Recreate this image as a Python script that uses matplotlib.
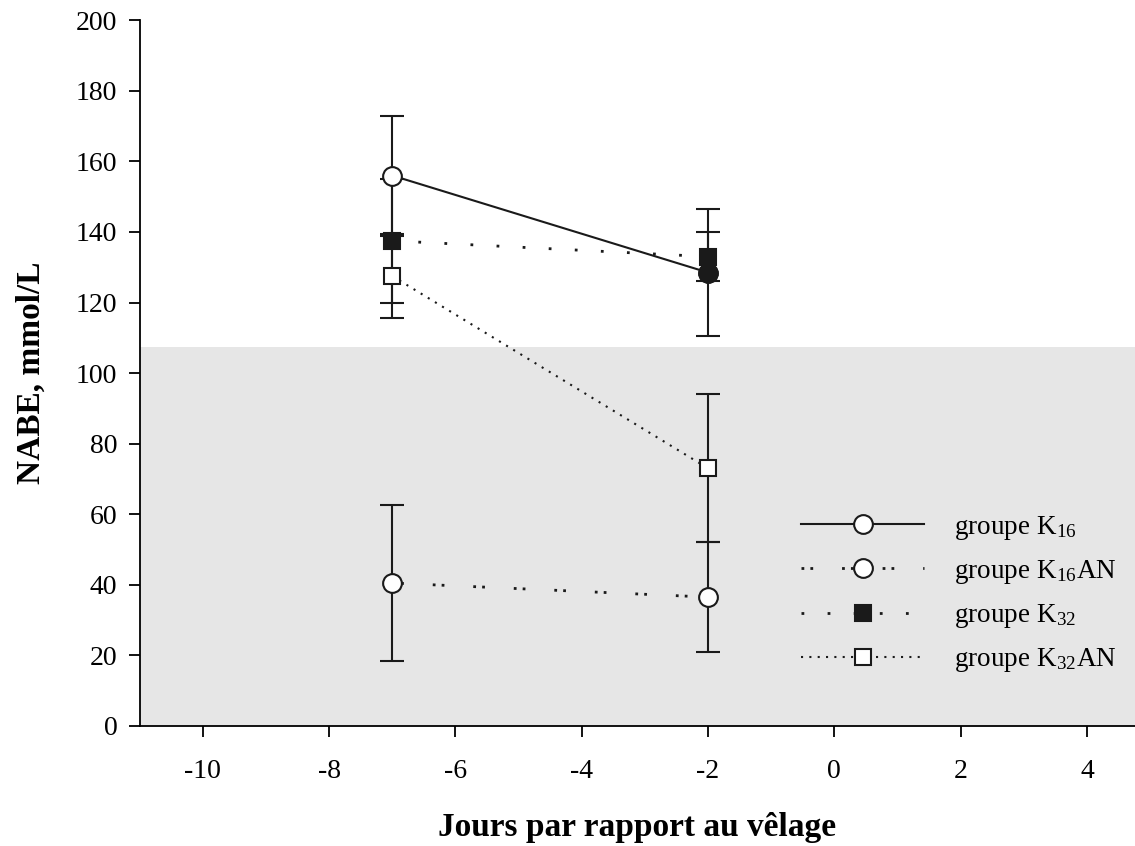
import matplotlib
matplotlib.use('Agg')
import matplotlib.pyplot as plt
from matplotlib.lines import Line2D

plt.rcParams['font.family'] = ['Liberation Serif', 'DejaVu Serif']
plt.rcParams['mathtext.fontset'] = 'stix'
plt.rcParams['axes.unicode_minus'] = False

# données
jours = [-7, -2]
k16 = [156, 128.5]
k16_err = [17, 18]
k16an = [40.5, 36.5]
k16an_err = [22, 15.5]
k32 = [137.5, 133]
k32_err = [17.5, 7]
k32an = [127.5, 73]
k32an_err = [12, 21]
seuil = 107.5

fig = plt.figure(figsize=(11.35, 8.46), dpi=100)
ax = fig.add_axes([0.123, 0.142, 0.877, 0.834])
ax.axhspan(0, seuil, color='#e6e6e6', zorder=0, lw=0)

c = '#1a1a1a'
styles = {
    'k16': dict(marker='o', ms=13.5, mfc='white', ls='-', lw=1.5),
    'k16an': dict(marker='o', ms=13.5, mfc='white', ls=(0, (1, 2.2, 1, 10.4)), lw=2),
    'k32': dict(marker='s', ms=12, mfc=c, ls=(0, (1, 8.4)), lw=2),
    'k32an': dict(marker='s', ms=12, mfc='white', ls=(0, (1, 3)), lw=1.5),
}
eb = dict(capsize=8.3, elinewidth=1.5, capthick=1.5, ecolor=c, mew=1.5, color=c, mec=c)

ax.errorbar(jours, k16an, yerr=k16an_err, **styles['k16an'], **eb)
ax.errorbar(jours, k32an, yerr=k32an_err, **styles['k32an'], **eb)
ax.errorbar(jours, k32, yerr=k32_err, **styles['k32'], **eb)
ax.errorbar(jours, k16, yerr=k16_err, **styles['k16'], **eb)
ax.plot(jours[1], k16[1], 'o', color=c, markersize=13.5, zorder=5)

labels = [r'groupe K$_{\mathregular{16}}$', r'groupe K$_{\mathregular{16}}$AN',
          r'groupe K$_{\mathregular{32}}$', r'groupe K$_{\mathregular{32}}$AN']
handles = [Line2D([], [], color=c, mec=c, mew=1.5, **styles[k]) for k in ['k16', 'k16an', 'k32', 'k32an']]
ax.legend(handles, labels, loc='center', bbox_to_anchor=(0.823, 0.187),
          frameon=False, fontsize=19.5, handlelength=4.55, handletextpad=1.1, labelspacing=0.6)

ax.set_xlim(-11, 4.76)
ax.set_ylim(0, 200)
ax.set_xticks(range(-10, 5, 2))
ax.set_yticks(range(0, 201, 20))
ax.spines['top'].set_visible(False)
ax.spines['right'].set_visible(False)
ax.spines['left'].set_linewidth(1.3)
ax.spines['bottom'].set_linewidth(1.3)
ax.tick_params(labelsize=20, length=8, width=1.3, direction='out')
ax.tick_params(axis='x', pad=16)
ax.tick_params(axis='y', pad=8)
ax.set_xlabel('Jours par rapport au vêlage', fontsize=24, fontweight='bold', labelpad=20)
ax.set_ylabel('NABE, mmol/L', fontsize=24, fontweight='bold', labelpad=21)

fig.savefig('out.png', dpi=100)
